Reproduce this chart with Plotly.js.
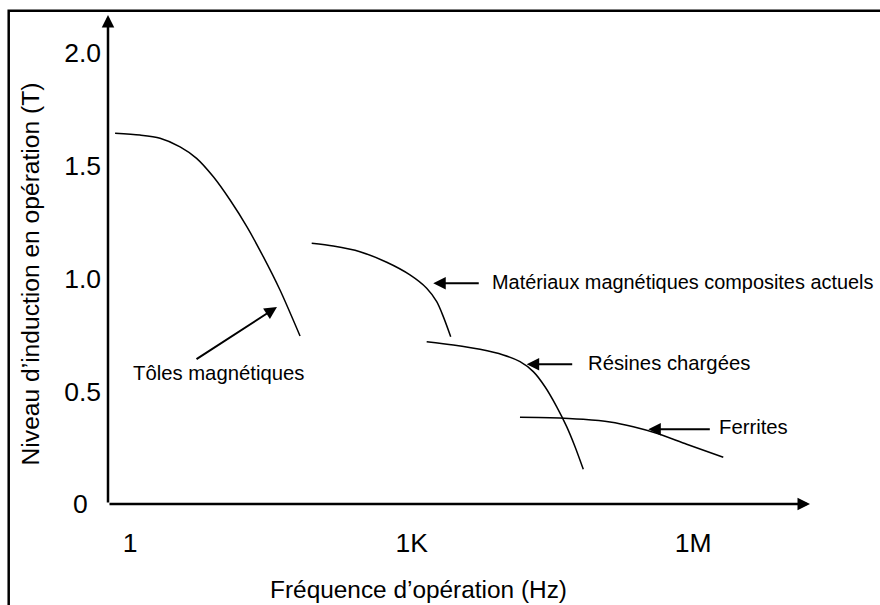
<!DOCTYPE html>
<html>
<head>
<meta charset="utf-8">
<script src="https://cdn.plot.ly/plotly-3.0.1.min.js"></script>
<style>
  html, body { margin: 0; padding: 0; background: #fff; }
  #chart { width: 880px; height: 605px; }
</style>
</head>
<body>
<div id="chart"></div>
<script>
// ---- Data (frequency in Hz, induction in T) ----
const tolesName = "Tôles magnétiques";
const tolesFreq = [0.69, 1.27, 2.08, 3.4, 5.1, 7.7, 11.6, 17.5, 26.2, 39.5, 64.6];
const tolesB    = [1.644, 1.636, 1.622, 1.584, 1.533, 1.451, 1.348, 1.230, 1.097, 0.949, 0.745];

const compName = "Matériaux magnétiques composites actuels";
const compFreq = [86, 146, 281, 542, 959, 1445, 1849, 2173, 2606];
const compB    = [1.156, 1.144, 1.119, 1.072, 1.016, 0.957, 0.897, 0.831, 0.742];

const resName = "Résines chargées";
const resFreq = [1445, 2780, 5346, 9462, 14290, 19770, 26360, 35160, 44870, 55080, 67450];
const resB    = [0.720, 0.705, 0.686, 0.661, 0.631, 0.587, 0.520, 0.431, 0.343, 0.254, 0.154];

const ferName = "Ferrites";
const ferFreq = [14260, 29790, 67450, 130000, 230100, 408300, 853000, 2094000];
const ferB    = [0.385, 0.383, 0.376, 0.364, 0.343, 0.314, 0.265, 0.207];

const xTickVals = [1, 1000, 1000000];
const xTickText = ["1", "1K", "1M"];
const yTickVals = [0, 0.5, 1.0, 1.5, 2.0];
const yTickText = ["0\u2002", "0.5", "1.0", "1.5", "2.0"];

const xTitle = "Fréquence d’opération (Hz)";
const yTitle = "Niveau d’induction en opération (T)";

// ---- Chart ----
const FONT = "Liberation Sans, Arial, Helvetica, sans-serif";
const lineStyle = {color: "#000", width: 1.5, shape: "spline", smoothing: 0.8};

function curve(name, xs, ys) {
  return {x: xs, y: ys, name: name, type: "scatter", mode: "lines",
          line: lineStyle, hoverinfo: "skip", showlegend: false};
}

const traces = [
  curve(tolesName, tolesFreq, tolesB),
  curve(compName, compFreq, compB),
  curve(resName, resFreq, resB),
  curve(ferName, ferFreq, ferB)
];

function label(text, xLog, y, size) {
  return {text: text, x: xLog, y: y, xref: "x", yref: "y", showarrow: false,
          xanchor: "left", yanchor: "middle", font: {family: FONT, size: size || 20.3, color: "#000"}};
}
function pointer(xLog, y, ax, ay) {
  return {text: "", x: xLog, y: y, xref: "x", yref: "y", showarrow: true,
          ax: ax, ay: ay, axref: "pixel", ayref: "pixel",
          arrowhead: 2, arrowsize: 1.25, arrowwidth: 2, arrowcolor: "#000", standoff: 0};
}

const annotations = [
  // axis arrows
  {text: "", x: 1.1304, y: 0, xref: "paper", yref: "y", showarrow: true, ax: -702, ay: 0,
   axref: "pixel", ayref: "pixel", arrowhead: 2, arrowsize: 1, arrowwidth: 2.5, arrowcolor: "#000", standoff: 0},
  {text: "", x: 0, y: 1.063, xref: "paper", yref: "paper", showarrow: true, ax: 0, ay: 489,
   axref: "pixel", ayref: "pixel", arrowhead: 2, arrowsize: 1, arrowwidth: 2.5, arrowcolor: "#000", standoff: 0},
  // labels
  label(tolesName, 0.012, 0.581),
  label(compName, 3.84, 0.984, 19.9),
  label(resName, 4.86, 0.625),
  label(ferName, 6.257, 0.3415),
  // pointer arrows
  pointer(1.5645, 0.8736, -82, 53),
  pointer(3.230, 0.979, 47, 0),
  pointer(4.226, 0.6195, 47, 0),
  pointer(5.522, 0.331, 63, 0)
];

const layout = {
  width: 880, height: 605,
  margin: {l: 108, r: 151, t: 44, b: 101, pad: 0},
  paper_bgcolor: "#fff", plot_bgcolor: "rgba(0,0,0,0)",
  font: {family: FONT, color: "#000"},
  showlegend: false,
  xaxis: {
    type: "log", range: [-0.2366, 6.382],
    tickvals: xTickVals, ticktext: xTickText, ticks: "",
    tickfont: {family: FONT, size: 26.5, color: "#000"},
    ticklabelstandoff: 20,
    showgrid: false, zeroline: false, showline: false,
    title: {text: xTitle, font: {family: FONT, size: 24.4, color: "#000"}, standoff: 24}
  },
  yaxis: {
    range: [0, 2.04],
    tickvals: yTickVals, ticktext: yTickText, ticks: "",
    tickfont: {family: FONT, size: 26.5, color: "#000"},
    ticklabelstandoff: 6,
    showgrid: false, zeroline: false, showline: false,
    title: {text: yTitle, font: {family: FONT, size: 24.6, color: "#000"}, standoff: 17}
  },
  shapes: [
    {type: "rect", xref: "paper", yref: "paper",
     x0: (8.7 - 108) / 621, x1: (895 - 108) / 621,
     y0: (504 - 620) / 460, y1: (504 - 10.7) / 460,
     line: {color: "#000", width: 2.5}, fillcolor: "rgba(0,0,0,0)", layer: "above"}
  ],
  annotations: annotations
};

Plotly.newPlot("chart", traces, layout, {staticPlot: true, displayModeBar: false});
</script>
</body>
</html>
